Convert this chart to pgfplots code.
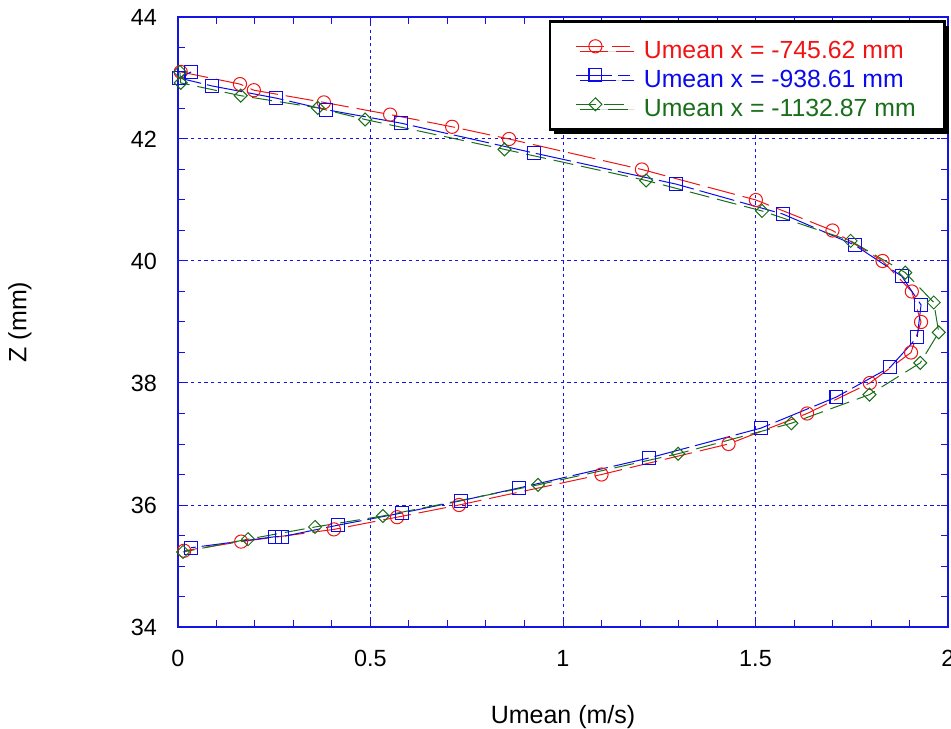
\documentclass[border=0pt]{standalone}
\usepackage{pgfplots}
\pgfplotsset{compat=1.18}
\usepackage{fontspec}
\setmainfont{Liberation Sans}
\usetikzlibrary{shadows}
\definecolor{cred}{RGB}{240,20,20}
\definecolor{cblue}{RGB}{10,10,235}
\definecolor{cgreen}{RGB}{25,110,25}
\definecolor{cgrid}{RGB}{20,20,230}
\begin{document}
\begin{tikzpicture}
\path[use as bounding box] (-89bp,-51bp) rectangle (386.5bp,313.5bp);
\begin{axis}[
  at={(0,0)}, anchor=south west,
  scale only axis, width=385bp, height=305bp,
  xmin=0, xmax=2, ymin=34, ymax=44,
  xtick={0,0.5,1,1.5,2}, ytick={34,36,38,40,42,44},
  minor x tick num=4, minor y tick num=3,
  xticklabels={0,0.5,1,1.5,2},
  tick align=inside, xtick pos=both, ytick pos=both,
  major tick length=3.5bp, minor tick length=3.5bp,
  every tick/.style={cgrid, line width=0.5bp},
  axis line style={cgrid, line width=0.8bp},
  grid=major,
  major grid style={cgrid, line width=0.5bp, dash pattern=on 1.6bp off 1.7bp},
  tick label style={font=\fontsize{11.7bp}{13bp}\selectfont, text=black},
  xticklabel style={yshift=-8bp},
  yticklabel style={xshift=-7bp},
  /pgf/number format/assume math mode=true,
  xlabel={Umean (m/s)}, ylabel={Z (mm)},
  every axis x label/.style={at={(axis description cs:0.5,0)}, yshift=-45bp, anchor=center,
    font=\fontsize{12.5bp}{14bp}\selectfont},
  every axis y label/.style={at={(axis description cs:0,0.5)}, xshift=-79bp, anchor=center, rotate=90,
    font=\fontsize{12.5bp}{14bp}\selectfont},
  clip=false,
  legend style={at={(axis description cs:1,1)}, anchor=north east, xshift=-1bp, yshift=-1.5bp,
    draw=black, line width=1.3bp, fill=white,
    drop shadow={shadow xshift=2bp, shadow yshift=-2.5bp, opacity=1, fill=black},
    inner xsep=13bp, inner ysep=5.25bp, row sep=0bp,
    nodes={inner ysep=0.5bp, inner xsep=1.5bp, text height=13bp, text depth=0.5bp},
    /tikz/every odd column/.append style={column sep=5bp},
    font=\fontsize{12.4bp}{14bp}\selectfont},
  legend cell align=left,
  legend image code/.code={%
    \draw[#1, mark repeat=2, mark phase=2] plot coordinates {(0bp,0bp) (9.5bp,0bp) (27bp,0bp)};},
]
\addplot[cred, line width=0.5bp, dash pattern=on 14bp off 4bp, mark=o, mark size=3.3bp,
  mark options={solid, line width=0.5bp}] coordinates {
(0.007,43.1) (0.161,42.9) (0.197,42.8) (0.379,42.6) (0.551,42.4) (0.712,42.2)
(0.860,42.0) (1.205,41.5) (1.501,41.0) (1.700,40.5) (1.830,40.0) (1.906,39.5)
(1.930,39.0) (1.904,38.5) (1.797,38.0) (1.634,37.5) (1.430,37.0) (1.100,36.5)
(0.730,36.0) (0.569,35.8) (0.405,35.6) (0.164,35.4) (0.016,35.25)};
\addlegendentry{\textcolor{cred}{Umean x = -745.62 mm}}
\addplot[cblue, line width=0.5bp, dash pattern=on 18bp off 3bp, mark=square, mark size=3.2bp,
  mark options={solid, line width=0.6bp}] coordinates {
(0.034,43.1) (0.003,43.0) (0.088,42.87) (0.255,42.67) (0.385,42.48) (0.579,42.26)
(0.925,41.77) (1.294,41.26) (1.571,40.77) (1.758,40.26) (1.880,39.75) (1.930,39.28)
(1.920,38.75) (1.850,38.26) (1.710,37.77) (1.514,37.26) (1.223,36.77) (0.886,36.28)
(0.735,36.07) (0.582,35.87) (0.416,35.67) (0.270,35.48) (0.252,35.48) (0.034,35.30)};
\addlegendentry{\textcolor{cblue}{Umean x = -938.61 mm}}
\addplot[cgreen, line width=0.5bp, dash pattern=on 10bp off 4bp, mark=square, mark size=2.3bp,
  mark options={solid, rotate=45, line width=0.5bp}] coordinates {
(0.005,43.1) (0.007,42.92) (0.163,42.71) (0.363,42.51) (0.486,42.32) (0.848,41.83)
(1.216,41.32) (1.517,40.82) (1.747,40.33) (1.889,39.81) (1.963,39.32) (1.976,38.83)
(1.928,38.33) (1.796,37.81) (1.593,37.34) (1.299,36.84) (0.935,36.33) (0.532,35.82)
(0.356,35.64) (0.182,35.44) (0.013,35.23)};
\addlegendentry{\textcolor{cgreen}{Umean x = -1132.87 mm}}
\end{axis}
\end{tikzpicture}
\end{document}
